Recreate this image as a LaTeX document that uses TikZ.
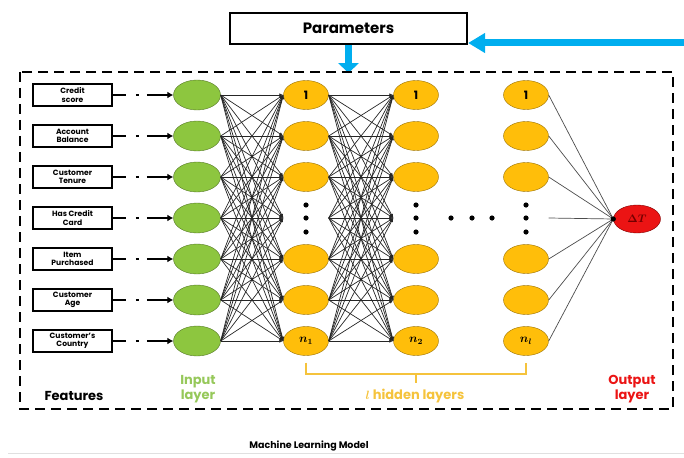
\documentclass[tikz,border=0pt]{standalone}
\usepackage{amsmath,amssymb,bm}
\usepackage{fontspec}
\setmainfont{Poppins}
\usepackage{tikz}
\usetikzlibrary{shapes,arrows.meta}
\usetikzlibrary{calc}

\definecolor{ingreen}{RGB}{141,198,63}
\definecolor{labgreen}{RGB}{150,200,90}
\definecolor{hidyellow}{RGB}{255,190,10}
\definecolor{bracegold}{RGB}{245,195,60}
\definecolor{outred}{RGB}{235,20,20}
\definecolor{parblue}{RGB}{0,174,239}

\begin{document}
\begin{tikzpicture}[x=1pt,y=-1pt,
	featbox/.style={draw,line width=1.8pt,minimum width=79pt,minimum height=22pt,inner sep=0pt,align=center,font=\fontsize{7.6}{8.4}\selectfont\bfseries},
	innode/.style={ellipse,draw=ingreen!60!black,fill=ingreen,minimum width=47pt,minimum height=30pt,inner sep=0pt},
	hidnode/.style={ellipse,draw=hidyellow!60!black,fill=hidyellow,minimum width=45pt,minimum height=29pt,inner sep=0pt,font=\fontsize{11.5}{11.5}\selectfont\bfseries},
	gapnode/.style={ellipse,minimum width=45pt,minimum height=29pt,inner sep=0pt},
	outnode/.style={ellipse,draw=red!50!black,fill=outred,minimum width=47pt,minimum height=28pt,inner sep=0pt,text=red!45!black,font=\fontsize{10.5}{10.5}\selectfont},
	conn/.style={black!85,line width=0.7pt,-{Latex[length=4pt,width=3.5pt]}},
	featarrow/.style={line width=2.5pt,dash pattern=on 13pt off 10pt on 3pt off 8pt on 40pt off 2pt,-{Latex[length=6pt,width=7pt]}},
	bluearrow/.style={parblue,line width=7pt}
	]
	\useasboundingbox (0,0) rectangle (684,457);

	% parameters box and feedback arrows
	\node[draw,line width=2.2pt,minimum width=237pt,minimum height=31pt,inner sep=0pt,font=\fontsize{15}{15}\selectfont\bfseries] (params) at (348.5,28.5) {\raisebox{-2.5pt}{Parameters}};
	\coordinate (feedback) at (684,43);
	\draw[bluearrow,-{Triangle[length=17pt,width=19pt]}] (feedback) -- (feedback -| params.east);
	\draw[bluearrow,-{Triangle[length=10pt,width=20pt]}] (params.south) -- ++(0,28);

	% model frame
	\draw[line width=2.6pt,dash pattern=on 10pt off 6pt] (20,72) rectangle (673,409);

	% features and input layer
	\foreach \txt [count=\i] in {{Credit\\score},{Account\\Balance},{Customer\\Tenure},{Has Credit\\Card},{Item\\Purchased},{Customer\\Age},{Customer's\\Country}} {
		\node[featbox] (f\i) at (72.5,{95+41*(\i-1)}) {\txt};
		\node[innode] (in\i) at (197,{95+41*(\i-1)}) {};
		\draw[featarrow] (f\i.east) -- (in\i.west);
	}

	% hidden layers
	\foreach \x/\top/\bot [count=\k] in {306/1/$\bm{n}_{\bm{1}}$,416/1/$\bm{n}_{\bm{2}}$,526/1/$\bm{n}_{\bm{l}}$} {
		\node[hidnode] (h\k-1) at (\x,95) {\top};
		\foreach \i in {2,3,5,6}
			\node[hidnode] (h\k-\i) at (\x,{95+41*(\i-1)}) {};
		\node[hidnode] (h\k-7) at (\x,341) {\bot};
		\node[gapnode] (h\k-4) at (\x,218) {};
		\fill ($(h\k-4)+(0,-13)$) circle (2.6pt);
		\fill (h\k-4) circle (2.6pt);
		\fill ($(h\k-4)+(0,14)$) circle (2.6pt);
	}
	\foreach \x in {451,472,492}
		\fill (\x,218) circle (2.6pt);

	% output
	\node[outnode] (out) at (637,219) {$\bm{\Delta T}$};

	% connections
	\foreach \i in {1,...,7}
		\foreach \j in {1,...,7} {
			\draw[conn] (in\i.east) -- (h1-\j.west);
			\draw[conn] (h1-\i.east) -- (h2-\j.west);
		}
	\foreach \i in {1,...,7}
		\draw[black!70,line width=0.7pt] (h3-\i.east) -- (out.west);
	\fill (out.west) circle (2.6pt);

	% brace under hidden layers
	\draw[bracegold,line width=2pt] ([yshift=-7pt]h1-7.south) -- ++(0,11) coordinate (bl) -- (bl -| h3-7.south) -- ([yshift=-7pt]h3-7.south);
	\draw[bracegold,line width=2pt] (bl -| h2-7) -- ++(0,9);

	% labels
	\node[font=\fontsize{13}{13}\selectfont\bfseries] (featlab) at (74,396) {Features};
	\node[text=labgreen,align=center,font=\fontsize{13}{15}\selectfont\bfseries] (inlab) at (198,389) {Input\\layer};
	\node[text=bracegold,font=\fontsize{13}{13}\selectfont\bfseries] (hidlab) at (415,396) {$\bm{l}$ hidden layers};
	\node[text=outred,align=center,font=\fontsize{13}{15}\selectfont\bfseries] (outlab) at (632,389) {Output\\layer};
	\node[font=\fontsize{9.5}{10}\selectfont\bfseries] (modlab) at (309,446) {Machine Learning Model};
	\draw[black!12,line width=1pt] (8,453) -- (684,453);
\end{tikzpicture}
\end{document}
